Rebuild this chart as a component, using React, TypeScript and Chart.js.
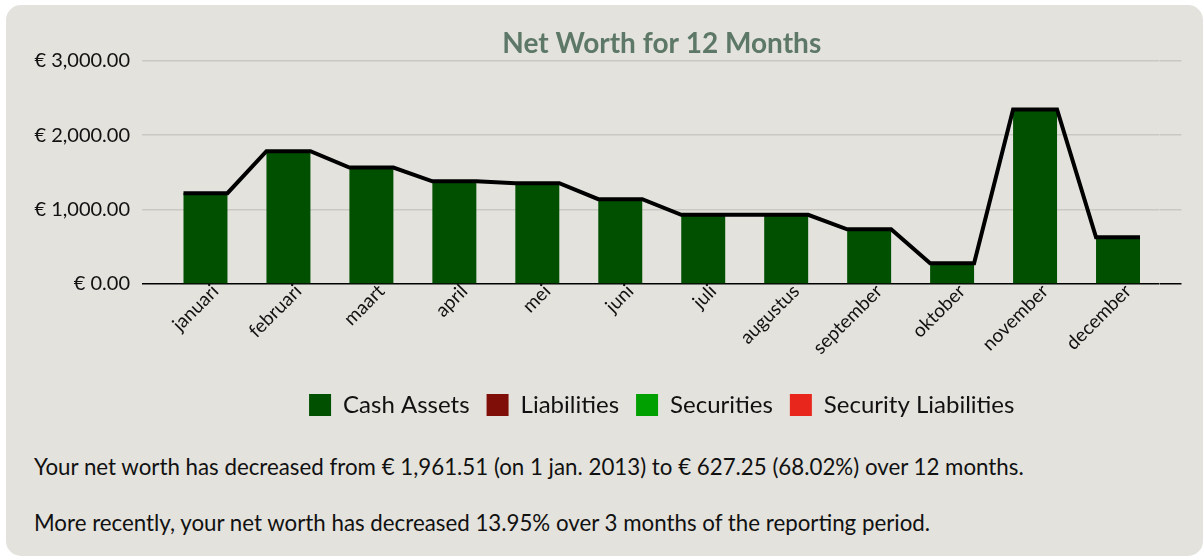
import React, { useEffect, useRef } from "react";
import { Chart, registerables } from "chart.js";

Chart.register(...registerables);

const months = [
  "januari", "februari", "maart", "april", "mei", "juni",
  "juli", "augustus", "september", "oktober", "november", "december",
];
const cashAssets = [1220, 1785, 1565, 1380, 1355, 1140, 930, 930, 735, 280, 2345, 627.25];
const liabilities = [0, 0, 0, 0, 0, 0, 0, 0, 0, 0, 0, 0];
const securities = [0, 0, 0, 0, 0, 0, 0, 0, 0, 0, 0, 0];
const securityLiabilities = [0, 0, 0, 0, 0, 0, 0, 0, 0, 0, 0, 0];
const netWorth = cashAssets.map(
  (c, i) => c + securities[i] - liabilities[i] - securityLiabilities[i]
);
const yMin = 0;
const yMax = 3000;
const yStep = 1000;

const FONT = "Lato, 'Open Sans', sans-serif";
const CANVAS_W = 1197;
const CANVAS_H = 422;

const fmt = (v: number) =>
  "€ " + v.toLocaleString("en-US", { minimumFractionDigits: 2, maximumFractionDigits: 2 });

const gridColor = (ctx: any) =>
  ctx.tick && ctx.tick.value === 0 ? "#000000" : "#c9c8c3";

const netWorthLine = {
  id: "netWorthLine",
  afterDatasetsDraw(chart: any) {
    const meta = chart.getDatasetMeta(0);
    const y = chart.scales.y;
    const ctx = chart.ctx;
    ctx.save();
    ctx.beginPath();
    meta.data.forEach((bar: any, i: number) => {
      const { x, width } = bar.getProps(["x", "width"], true);
      const half = width / 2;
      const py = y.getPixelForValue(netWorth[i]);
      if (i === 0) ctx.moveTo(x - half, py);
      else ctx.lineTo(x - half, py);
      ctx.lineTo(x + half, py);
    });
    ctx.lineWidth = 4;
    ctx.strokeStyle = "#000000";
    ctx.lineJoin = "miter";
    ctx.stroke();
    ctx.restore();
  },
};

export default function App() {
  const ref = useRef<HTMLCanvasElement | null>(null);

  useEffect(() => {
    if (!ref.current) return;
    const chart = new Chart(ref.current, {
      type: "bar",
      data: {
        labels: months,
        datasets: [
          { label: "Cash Assets", data: cashAssets, backgroundColor: "#005000" },
          { label: "Liabilities", data: liabilities, backgroundColor: "#800e08" },
          { label: "Securities", data: securities, backgroundColor: "#00a000" },
          { label: "Security Liabilities", data: securityLiabilities, backgroundColor: "#e8261b" },
        ],
      },
      options: {
        responsive: false,
        animation: false,
        devicePixelRatio: 1,
        layout: { padding: 0 },
        datasets: {
          bar: { categoryPercentage: 1, barPercentage: 0.53 },
        },
        plugins: {
          tooltip: { enabled: false },
          title: {
            display: true,
            text: "Net Worth for 12 Months",
            color: "#5d7866",
            fullSize: false,
            font: { family: FONT, size: 28, weight: "bold" },
            padding: { top: 22, bottom: 0.1 },
          },
          legend: {
            position: "bottom",
            fullSize: false,
            labels: {
              color: "#111111",
              font: { family: FONT, size: 24 },
              boxWidth: 22,
              boxHeight: 22,
              padding: 17,
            },
          },
        },
        scales: {
          x: {
            stacked: true,
            grid: { display: false, drawTicks: false },
            border: { display: false },
            ticks: {
              color: "#111111",
              font: { family: FONT, size: 19 },
              maxRotation: 45,
              minRotation: 45,
              padding: -4,
              labelOffset: 10,
            },
            afterFit: (s: any) => {
              s.height = 92;
            },
          },
          y: {
            stacked: true,
            min: yMin,
            max: yMax,
            position: "left",
            border: { display: false },
            grid: { color: gridColor, lineWidth: 1.5, tickLength: 22 },
            ticks: {
              stepSize: yStep,
              color: "#111111",
              font: { family: FONT, size: 20 },
              padding: 12,
              callback: (v: any) => fmt(Number(v)),
            },
            afterFit: (s: any) => {
              s.width = 158;
            },
          },
          y2: {
            min: yMin,
            max: yMax,
            position: "right",
            border: { display: false },
            grid: { color: gridColor, lineWidth: 1.5, tickLength: 22, drawOnChartArea: false },
            ticks: { stepSize: yStep, callback: () => "" },
            afterFit: (s: any) => {
              s.width = CANVAS_W - 1153.5;
            },
          },
        },
      },
      plugins: [netWorthLine],
    });
    return () => chart.destroy();
  }, []);

  const textStyle: React.CSSProperties = {
    position: "absolute",
    left: 28,
    fontFamily: FONT,
    fontSize: 22.3,
    lineHeight: "24px",
    color: "#111111",
    whiteSpace: "nowrap",
  };

  return (
    <div
      style={{
        position: "absolute",
        left: 6,
        top: 5,
        width: 1197,
        height: 551,
        background: "#e3e2dd",
        borderRadius: 15,
        overflow: "hidden",
      }}
    >
      <canvas
        ref={ref}
        width={CANVAS_W}
        height={CANVAS_H}
        style={{ position: "absolute", left: 0, top: 0, width: CANVAS_W, height: CANVAS_H }}
      />
      <div style={{ ...textStyle, top: 450 }}>
        Your net worth has decreased from € 1,961.51 (on 1 jan. 2013) to € 627.25 (68.02%) over 12 months.
      </div>
      <div style={{ ...textStyle, top: 506 }}>
        More recently, your net worth has decreased 13.95% over 3 months of the reporting period.
      </div>
    </div>
  );
}
